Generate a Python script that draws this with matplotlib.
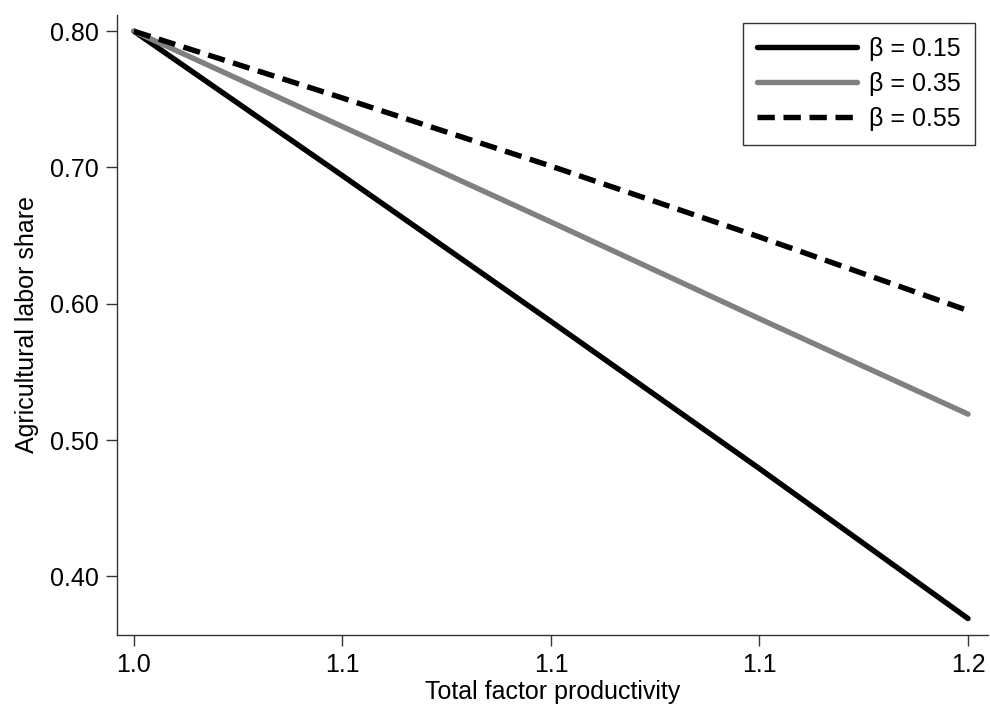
import numpy as np
import matplotlib.pyplot as plt

plt.rcParams['font.family'] = ['Liberation Sans', 'DejaVu Sans']

tfp = [1.0, 1.05, 1.1, 1.15, 1.2]
share_b15 = [0.80, 0.694, 0.587, 0.479, 0.369]
share_b35 = [0.80, 0.730, 0.660, 0.589, 0.519]
share_b55 = [0.80, 0.751, 0.701, 0.649, 0.595]

x_ticks = [1.0, 1.05, 1.1, 1.15, 1.2]
x_labels = ['1.0', '1.1', '1.1', '1.1', '1.2']
y_ticks = [0.4, 0.5, 0.6, 0.7, 0.8]
y_labels = ['0.40', '0.50', '0.60', '0.70', '0.80']

fig = plt.figure(figsize=(9.9, 7.07), dpi=100)
ax = fig.add_axes([0.118, 0.102, 0.880, 0.877])

ax.plot(tfp, share_b15, color='black', lw=3.9, solid_capstyle='round', label=r'β = 0.15')
ax.plot(tfp, share_b35, color='#808080', lw=3.9, solid_capstyle='round', label=r'β = 0.35')
ax.plot(tfp, share_b55, color='black', lw=3.9, dashes=(3.2, 1.6), label=r'β = 0.55')

ax.set_xlim(0.9959, 1.2048)
ax.set_ylim(0.357, 0.812)
ax.set_xticks(x_ticks, x_labels)
ax.set_yticks(y_ticks, y_labels)

for s in ['top', 'right']:
  ax.spines[s].set_visible(False)
for s in ['left', 'bottom']:
  ax.spines[s].set_color('#333333')
  ax.spines[s].set_linewidth(1.0)

ax.tick_params(axis='both', direction='out', length=8, width=1, color='#333333', labelsize=18, pad=5)

ax.set_xlabel('Total factor productivity', fontsize=18, labelpad=2)
ax.set_ylabel('Agricultural labor share', fontsize=18, labelpad=8)

leg = ax.legend(loc='upper right', bbox_to_anchor=(0.985, 0.987), fontsize=18, handlelength=4.0,
                frameon=True, fancybox=False, edgecolor='black', borderpad=0.55,
                labelspacing=0.45, handletextpad=0.5, borderaxespad=0)
leg.get_frame().set_linewidth(1.0)

plt.savefig('out.png', dpi=100)
